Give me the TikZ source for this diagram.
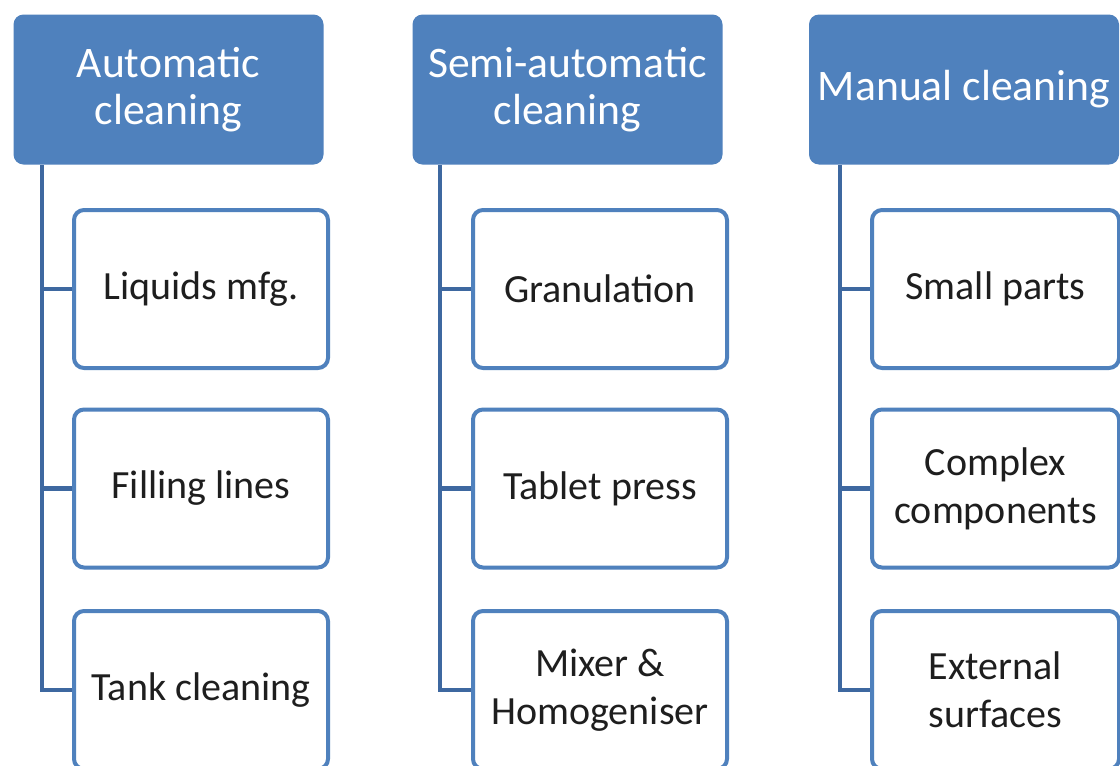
\documentclass[tikz,border=0pt]{standalone}
\usepackage{fontspec}
\setmainfont{Carlito}
\usepackage{tikz}
\usetikzlibrary{positioning}
\definecolor{officeblue}{RGB}{79, 129, 189}
\definecolor{linkblue}{RGB}{62, 104, 160}
\definecolor{inkgray}{RGB}{30, 30, 30}

\begin{document}
\begin{tikzpicture}[x=0.5pt, y=-0.5pt,
        head/.style={rectangle, rounded corners=5pt, fill=officeblue, draw=none,
                     text=white, align=center, minimum width=155pt, minimum height=75pt,
                     font=\fontsize{21.8}{23.5}\selectfont},
        item/.style={rectangle, rounded corners=5pt, draw=officeblue, line width=2pt,
                     fill=white, text=inkgray, align=center, minimum width=127pt,
                     minimum height=79pt, font=\fontsize{20}{24}\selectfont},
        link/.style={draw=linkblue, line width=2.3pt}]
            % Frame to ensure alignment:
            \clip                                        (0, 0) rectangle (1120, 766);
            \fill[white]                                 (0, 0) rectangle (1120, 766);
            % Automatic
            \node[head] (autohead) at ( 168.5,  89.5) {Automatic\\cleaning};
            \node[item] (liquids)  at ( 201.0, 289.0) {Liquids mfg.};
            \node[item] (filling)  at ( 201.0, 488.5) {Filling lines};
            \node[item] (tank)     at ( 201.0, 690.0) {Tank cleaning};
            % Semi-automatic
            \node[head] (semihead) at ( 567.5,  89.5) {Semi-automatic\\cleaning};
            \node[item] (granul)   at ( 600.0, 289.0) {Granulation};
            \node[item] (tablet)   at ( 600.0, 488.5) {Tablet press};
            \node[item] (mixer)    at ( 600.0, 690.0) {Mixer \&\\Homogeniser};
            % Manual
            \node[head] (manhead)  at ( 964.0,  89.5) {Manual cleaning};
            \node[item, minimum width=123.5pt]
                        (small)    at ( 995.5, 289.0) {Small parts};
            \node[item, minimum width=123.5pt]
                        (complex)  at ( 995.5, 488.5) {Complex\\components};
            \node[item, minimum width=123.5pt]
                        (external) at ( 995.5, 690.0) {External\\surfaces};
            % Spines
            \coordinate (autospine) at ( 42, 165);
            \coordinate (semispine) at (440, 165);
            \coordinate (manspine)  at (840, 165);
            \draw[link] (autospine) |- (tank.west);
            \draw[link] (autospine |- liquids.west) -- (liquids.west);
            \draw[link] (autospine |- filling.west) -- (filling.west);
            \draw[link] (semispine) |- (mixer.west);
            \draw[link] (semispine |- granul.west)  -- (granul.west);
            \draw[link] (semispine |- tablet.west)  -- (tablet.west);
            \draw[link] (manspine)  |- (external.west);
            \draw[link] (manspine |- small.west)    -- (small.west);
            \draw[link] (manspine |- complex.west)  -- (complex.west);
\end{tikzpicture}
\end{document}
